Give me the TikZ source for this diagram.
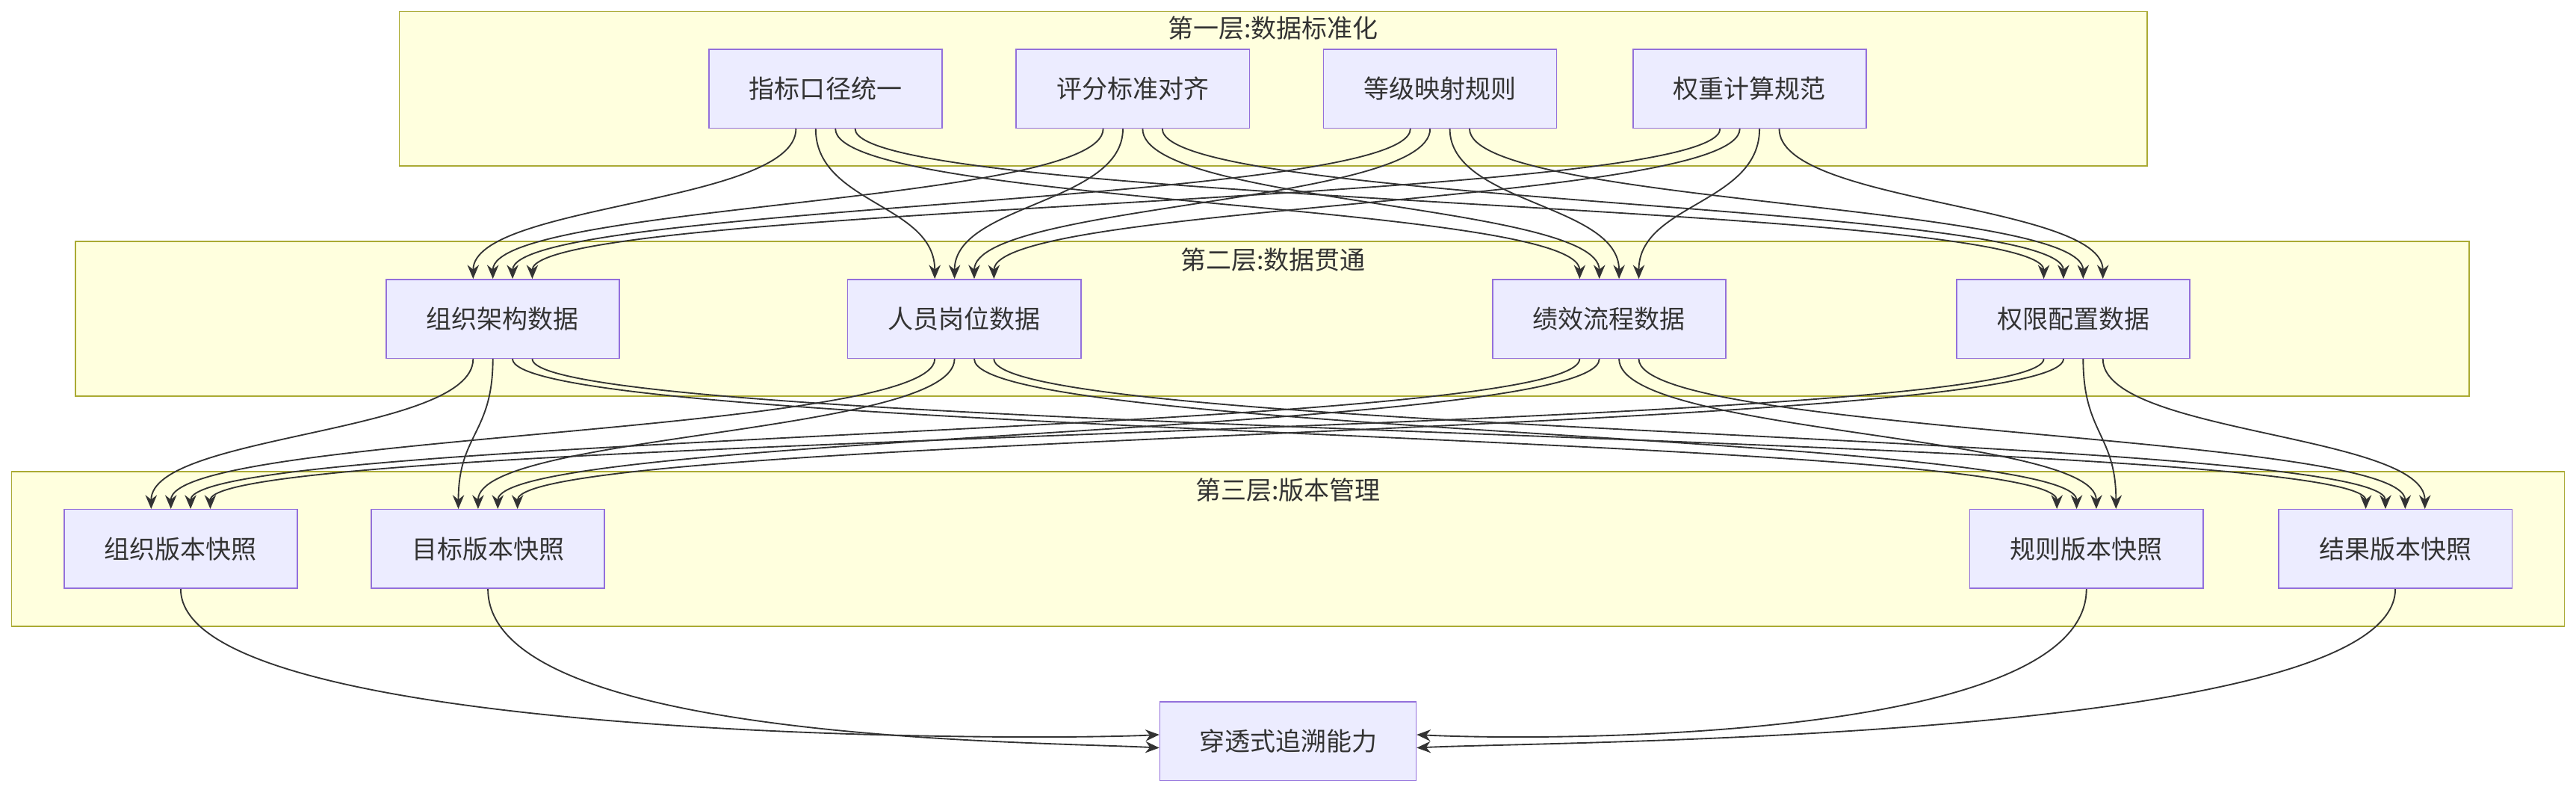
\documentclass[tikz,border=0pt]{standalone}
\usepackage{fontspec}
\setmainfont{Noto Sans CJK SC}
\usetikzlibrary{arrows.meta}
\definecolor{nodefill}{HTML}{ECECFF}
\definecolor{nodeline}{HTML}{9370DB}
\definecolor{clfill}{HTML}{FFFFDE}
\definecolor{clline}{HTML}{AAAA33}
\definecolor{ink}{HTML}{333333}
\tikzset{
 box/.style={draw=nodeline,fill=nodefill,line width=1pt,minimum width=7.1cm,minimum height=2.4cm,inner sep=0pt,text=ink,font=\fontsize{22}{26}\selectfont},
 cluster/.style={draw=clline,fill=clfill,line width=1pt},
 cltitle/.style={text=ink,font=\fontsize{22}{26}\selectfont},
 edge/.style={draw=ink,line width=1.2pt,-{Stealth[length=12pt,width=10pt]}}
}
\begin{document}
\begin{tikzpicture}[x=0.05cm,y=-0.05cm]
\useasboundingbox (0,0) rectangle (1568,484);
\fill[white] (0,0) rectangle (1568,484);
\draw[cluster] (243,7) rectangle (1307,101);
\draw[cluster] (46,147) rectangle (1503,241);
\draw[cluster] (7,287) rectangle (1561,381);
\node[cltitle] (t1) at (775,17) {第一层:数据标准化};
\node[cltitle] (t2) at (775,158) {第二层:数据贯通};
\node[cltitle] (t3) at (784,298) {第三层:版本管理};
\node[box] (a1) at (502.5,54) {指标口径统一};
\node[box] (a2) at (689.5,54) {评分标准对齐};
\node[box] (a3) at (876.5,54) {等级映射规则};
\node[box] (a4) at (1065,54) {权重计算规范};
\node[box] (b1) at (306,194) {组织架构数据};
\node[box] (b2) at (587,194) {人员岗位数据};
\node[box] (b3) at (979.5,194) {绩效流程数据};
\node[box] (b4) at (1262,194) {权限配置数据};
\node[box] (c1) at (110,334) {组织版本快照};
\node[box] (c2) at (297,334) {目标版本快照};
\node[box] (c3) at (1270,334) {规则版本快照};
\node[box] (c4) at (1458,334) {结果版本快照};
\node[box,minimum width=7.8cm] (d) at (784,451) {穿透式追溯能力};
\coordinate (m1) at (0,124);
\coordinate (m2) at (0,264);
\foreach \i in {1,...,4}{
 \foreach \j in {1,...,4}{
  \coordinate (s) at ([xshift={(\j-2.5)*0.6cm}]a\i.south);
  \coordinate (e) at ([xshift={(\i-2.5)*0.6cm}]b\j.north);
  \draw[edge] (s) .. controls (s |- m1) and (e |- m1) .. (e);
  \coordinate (s) at ([xshift={(\j-2.5)*0.6cm}]b\i.south);
  \coordinate (e) at ([xshift={(\i-2.5)*0.6cm}]c\j.north);
  \draw[edge] (s) .. controls (s |- m2) and (e |- m2) .. (e);
 }
}
\draw[edge] (c1.south) .. controls (c1.south |- d.west) and ([xshift=-4cm]d.west) .. ([yshift=0.2cm]d.west);
\draw[edge] (c2.south) .. controls (c2.south |- d.west) and ([xshift=-4cm]d.west) .. ([yshift=-0.2cm]d.west);
\draw[edge] (c3.south) .. controls (c3.south |- d.east) and ([xshift=4cm]d.east) .. ([yshift=0.2cm]d.east);
\draw[edge] (c4.south) .. controls (c4.south |- d.east) and ([xshift=4cm]d.east) .. ([yshift=-0.2cm]d.east);
\end{tikzpicture}
\end{document}
